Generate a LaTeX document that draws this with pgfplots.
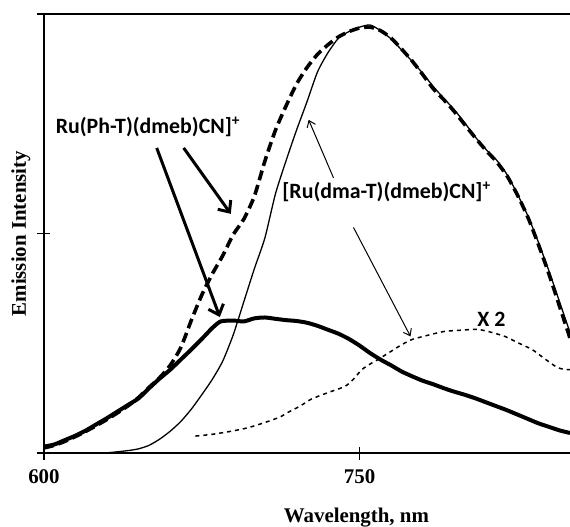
\documentclass[border=0pt]{standalone}
\usepackage{pgfplots}
\pgfplotsset{compat=1.18}
\usepackage{fontspec}
\setmainfont{Liberation Serif}
\newfontfamily\annfont{Carlito}
\usetikzlibrary{arrows.meta}

\begin{document}
\begin{tikzpicture}
\useasboundingbox (-44bp,-73bp) rectangle (527bp,454bp);
\begin{axis}[
    at={(0,0)}, anchor=south west,
    scale only axis,
    width=527bp, height=440bp,
    xmin=600, xmax=850,
    ymin=0, ymax=1,
    axis lines*=left,
    axis line style={line width=1.8bp, -},
    tick pos=left,
    tick align=center,
    major tick length=13bp,
    tick style={line width=1.8bp, black},
    xtick={600,750}, xticklabels={600,750},
    ytick={0,0.5,1}, yticklabels={},
    xticklabel style={font=\bfseries\fontsize{21}{25}\selectfont, yshift=-6bp},
    xlabel={Wavelength, nm},
    ylabel={Emission Intensity},
    every axis x label/.style={at={([yshift=-64bp]rel axis cs:0.594,0)}, anchor=center,
        font=\bfseries\fontsize{21}{25}\selectfont},
    every axis y label/.style={at={([xshift=-23bp]rel axis cs:0,0.5)}, anchor=center, rotate=90,
        font=\bfseries\fontsize{21}{25}\selectfont},
    clip=false,
]
\draw[line width=1.8bp] (rel axis cs:0,1) -- (rel axis cs:1,1);

% Ru(Ph-T), thick solid
\addplot[black, line width=4bp, line join=round, smooth, tension=0.4] coordinates {
(600,0.015)(605,0.02)(610,0.03)(615,0.04)(620,0.052)(625,0.066)(630,0.08)(635,0.095)
(640,0.11)(645,0.125)(650,0.148)(655,0.17)(660,0.19)(665,0.213)(670,0.236)(675,0.26)
(680,0.285)(684,0.30)(690,0.302)(695,0.300)(700,0.307)(705,0.309)(710,0.306)(715,0.303)
(720,0.301)(725,0.297)(730,0.29)(735,0.281)(740,0.272)(745,0.26)(750,0.245)(755,0.228)
(760,0.213)(765,0.2)(770,0.186)(775,0.175)(780,0.165)(785,0.157)(790,0.148)(795,0.14)
(800,0.133)(805,0.125)(810,0.116)(815,0.107)(820,0.098)(825,0.088)(830,0.078)(835,0.068)
(840,0.06)(845,0.052)(850,0.046)
};

% Ru(Ph-T), thick dashed
\addplot[black, line width=3.6bp, dash pattern=on 10bp off 5bp, smooth, tension=0.4] coordinates {
(600,0.012)(605,0.018)(610,0.027)(615,0.038)(620,0.05)(625,0.063)(630,0.077)(635,0.092)
(640,0.108)(645,0.127)(650,0.15)(655,0.172)(660,0.2)(665,0.24)(670,0.302)(675,0.36)
(680,0.408)(685,0.45)(690,0.498)(695,0.533)(700,0.585)(705,0.665)(710,0.735)(715,0.79)
(720,0.84)(725,0.878)(730,0.908)(735,0.93)(740,0.948)(745,0.96)(750,0.968)(755,0.970)
(760,0.962)(765,0.945)(770,0.92)(775,0.893)(780,0.862)(785,0.83)(790,0.805)(795,0.778)
(800,0.748)(805,0.718)(810,0.69)(815,0.664)(820,0.632)(825,0.588)(830,0.537)(835,0.475)
(840,0.408)(845,0.335)(850,0.262)
};

% Ru(dma-T), thin solid
\addplot[black, line width=1.3bp, smooth, tension=0.4] coordinates {
(600,0.0)(620,0.0)(630,0.001)(640,0.006)(645,0.01)(650,0.018)(655,0.032)(660,0.05)
(665,0.072)(670,0.1)(675,0.133)(680,0.168)(685,0.21)(690,0.27)(695,0.345)(700,0.42)
(705,0.49)(710,0.59)(715,0.665)(720,0.735)(725,0.80)(730,0.868)(735,0.912)(740,0.945)
(745,0.96)(750,0.97)(755,0.975)(760,0.962)(765,0.943)(770,0.918)(775,0.892)(780,0.865)
(785,0.835)(790,0.808)(795,0.782)(800,0.752)(805,0.72)(810,0.692)(815,0.668)(820,0.635)
(825,0.59)(830,0.54)(835,0.48)(840,0.415)(845,0.345)(850,0.275)
};

% second emission, x 2, thin dashed
\addplot[black, line width=1.5bp, dash pattern=on 4bp off 4bp, smooth, tension=0.4] coordinates {
(672,0.039)(680,0.043)(689,0.05)(697,0.058)(705,0.07)(712,0.082)(716,0.093)(722,0.108)
(727,0.123)(735,0.138)(743,0.152)(747,0.168)(751,0.19)(755,0.203)(759,0.214)(765,0.232)
(770,0.247)(775,0.259)(782,0.268)(790,0.277)(798,0.28)(806,0.282)(812,0.276)(819,0.266)
(825,0.252)(832,0.236)(838,0.215)(843,0.198)(846,0.192)(850,0.19)
};

\node[font=\annfont\bfseries\fontsize{22}{26}\selectfont] at (axis cs:649.4,0.743)
    {Ru(Ph-T)(dmeb)CN]\textsuperscript{+}};
\node[font=\annfont\bfseries\fontsize{22}{26}\selectfont] at (axis cs:762.8,0.595)
    {[Ru(dma-T)(dmeb)CN]\textsuperscript{+}};
\node[font=\annfont\bfseries\fontsize{22}{26}\selectfont] at (axis cs:812.6,0.305) {X 2};

\draw[line width=3bp, -{Straight Barb[length=9bp,width=16bp]}]
    (axis cs:653.6,0.695) -- (axis cs:683.6,0.31);
\draw[line width=3bp, -{Straight Barb[length=9bp,width=16bp]}]
    (axis cs:666.4,0.695) -- (axis cs:688.8,0.545);
\draw[line width=1bp, -{Straight Barb[length=6bp,width=9bp]}]
    (axis cs:737.6,0.627) -- (axis cs:725.8,0.759);
\draw[line width=1bp, -{Straight Barb[length=6bp,width=9bp]}]
    (axis cs:747.1,0.514) -- (axis cs:774.2,0.266);
\end{axis}
\end{tikzpicture}
\end{document}
